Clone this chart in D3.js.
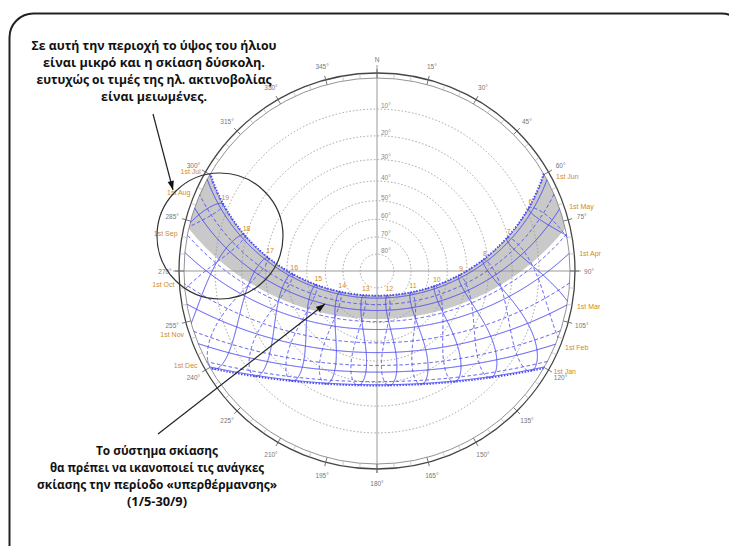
<!DOCTYPE html>
<html><head><meta charset="utf-8">
<script src="https://cdn.jsdelivr.net/npm/d3@7"></script>
<style>body{margin:0;background:#fff}svg{display:block}</style>
</head><body>
<script>
// ---------------- data ----------------
const siteLat = 37.97, siteLon = 23.73, siteTz = 2;
const monthNames = ["Jan","Feb","Mar","Apr","May","Jun","Jul","Aug","Sep","Oct","Nov","Dec"];
const monthDOY   = [1,32,60,91,121,152,182,213,244,274,305,335];
const solsticeDOY = [172,355];
const clockHours = [6,7,8,9,10,11,12,13,14,15,16,17,18,19];
const altRings = [10,20,30,40,50,60,70,80];
const azTicks = [0,15,30,45,60,75,90,105,120,135,150,165,180,195,210,225,240,255,270,285,300,315,330,345];
const azLabels = ["N","15°","30°","45°","60°","75°","90°","105°","120°","135°","150°","165°","180°","195°","210°","225°","240°","255°","270°","285°","300°","315°","330°","345°"];
const bandDecl = [23.44, 10];   // shaded overheating band (declination limits)
const noteTop = ["Σε αυτή την περιοχή το ύψος του ήλιου","είναι μικρό και η σκίαση δύσκολη.","ευτυχώς οι τιμές της ηλ. ακτινοβολίας","είναι μειωμένες."];
const noteBottom = ["Το σύστημα σκίασης","θα πρέπει να ικανοποιεί τις ανάγκες","σκίασης την περίοδο «υπερθέρμανσης»","(1/5-30/9)"];

// ---------------- layout ----------------
const W=729, H=546, cx=377, cy=271, R=193, rimOut=198;
const rad = Math.PI/180;
const BLUE="#4848f2", ORANGE="#d08a26";
const noteTopW=[245,222,235,106], noteBotW=[122,214,240,60];

const svg = d3.select("body").append("svg").attr("width",W).attr("height",H);

const rScale = d3.scaleLinear().domain([0,1]).range([0,R]);
const azScale = d3.scaleLinear().domain([0,360]).range([0,2*Math.PI]);
function polar(r, az){ const a=azScale(az); return [cx + r*Math.sin(a), cy - r*Math.cos(a)]; }
function proj(alt, az){ return polar(rScale(Math.tan((90-alt)/2*rad)), az); }

function posFromDeclHa(decl, ha){
  const phi=siteLat*rad;
  const alt=Math.asin(Math.sin(phi)*Math.sin(decl)+Math.cos(phi)*Math.cos(decl)*Math.cos(ha));
  const E=-Math.cos(decl)*Math.sin(ha);
  const N=Math.sin(decl)*Math.cos(phi)-Math.cos(decl)*Math.cos(ha)*Math.sin(phi);
  return {alt:alt/rad, az:(Math.atan2(E,N)/rad+360)%360};
}
function sunPos(doy, hr){
  const g=2*Math.PI/365*(doy-1+(hr-12)/24);
  const decl=0.006918-0.399912*Math.cos(g)+0.070257*Math.sin(g)-0.006758*Math.cos(2*g)+0.000907*Math.sin(2*g)-0.002697*Math.cos(3*g)+0.00148*Math.sin(3*g);
  const eqt=229.18*(0.000075+0.001868*Math.cos(g)-0.032077*Math.sin(g)-0.014615*Math.cos(2*g)-0.040849*Math.sin(2*g));
  const tst=hr*60+eqt+4*siteLon-60*siteTz;
  return posFromDeclHa(decl,(tst/4-180)*rad);
}
function cross(a,b){
  const t=(0-a.alt)/(b.alt-a.alt);
  const x=Math.sin(a.az*rad)*(1-t)+Math.sin(b.az*rad)*t, y=Math.cos(a.az*rad)*(1-t)+Math.cos(b.az*rad)*t;
  return {alt:0, az:(Math.atan2(x,y)/rad+360)%360};
}
function visibleRuns(samples){
  const runs=[]; let cur=null;
  samples.forEach((s,i)=>{
    if(s.alt>=0){
      if(!cur){ cur=[]; if(i>0) cur.push(cross(samples[i-1],s)); }
      cur.push(s);
    } else if(cur){ cur.push(cross(s,samples[i-1])); runs.push(cur); cur=null; }
  });
  if(cur) runs.push(cur);
  return runs;
}
const line = d3.line().x(d=>proj(d.alt,d.az)[0]).y(d=>proj(d.alt,d.az)[1]);

// ---------------- border ----------------
svg.append("rect").attr("x",9.5).attr("y",13.5).attr("width",736).attr("height",570).attr("rx",24)
  .attr("fill","none").attr("stroke","#222").attr("stroke-width",2);

// ---------------- shaded band ----------------
function declRun(dDeg){
  const s=d3.range(-180,180.01,0.5).map(h=>posFromDeclHa(dDeg*rad,h*rad));
  return visibleRuns(s)[0];
}
const bandTop=declRun(bandDecl[0]), bandBot=declRun(bandDecl[1]);
function horizonArc(az0, az1){ return d3.range(0,1.0001,0.05).map(t=>({alt:0, az:az0+(az1-az0)*t})); }
const bandPts = bandTop.concat(horizonArc(bandTop[bandTop.length-1].az, bandBot[bandBot.length-1].az), bandBot.slice().reverse(), horizonArc(bandBot[0].az, bandTop[0].az));
svg.append("path").attr("d", line(bandPts)+"Z").attr("fill","#c9c9c9").attr("stroke","none");

// ---------------- grid ----------------
const grid=svg.append("g");
altRings.forEach(a=>{
  grid.append("circle").attr("cx",cx).attr("cy",cy).attr("r",rScale(Math.tan((90-a)/2*rad)))
    .attr("fill","none").attr("stroke","#999").attr("stroke-width",0.9).attr("stroke-dasharray","1.5,2");
});
grid.append("line").attr("x1",cx).attr("x2",cx).attr("y1",cy-206).attr("y2",cy+202).attr("stroke","#999").attr("stroke-width",1);
grid.append("line").attr("x1",cx-204).attr("x2",cx+204).attr("y1",cy).attr("y2",cy).attr("stroke","#999").attr("stroke-width",1);
grid.append("circle").attr("cx",cx).attr("cy",cy).attr("r",R).attr("fill","none").attr("stroke","#888").attr("stroke-width",0.9);
grid.append("circle").attr("cx",cx).attr("cy",cy).attr("r",rimOut).attr("fill","none").attr("stroke","#444").attr("stroke-width",1.3);
d3.range(0,360,5).forEach(a=>{
  const major = a%15===0;
  const p0=polar(R,a), p1=polar(major?rimOut+4:rimOut,a);
  grid.append("line").attr("x1",p0[0]).attr("y1",p0[1]).attr("x2",p1[0]).attr("y2",p1[1])
    .attr("stroke",major?"#666":"#aaa").attr("stroke-width",major?0.9:0.6);
});
azTicks.forEach((a,i)=>{
  const p=polar(212,a);
  grid.append("text").attr("x",p[0]).attr("y",p[1]+2.5).attr("text-anchor","middle")
    .attr("font-family","Liberation Sans, Arial, sans-serif").attr("font-size",6.5).attr("fill","#777").text(azLabels[i]);
});
altRings.forEach(a=>{
  const r=rScale(Math.tan((90-a)/2*rad));
  grid.append("text").attr("x",cx+4).attr("y",cy-r-1).attr("font-family","Liberation Sans, Arial, sans-serif")
    .attr("font-size",6.5).attr("fill","#888").text(a+"°");
});

// ---------------- sun paths ----------------
const blue=svg.append("g").attr("fill","none").attr("stroke",BLUE);
monthDOY.forEach((doy,i)=>{
  const s=d3.range(0,24.001,1/60).map(h=>sunPos(doy,h));
  const runs=visibleRuns(s);
  runs.forEach(run=>{
    blue.append("path").attr("d",line(run)).attr("stroke-width",1)
      .attr("stroke-dasharray", i<6?null:"3.5,2.5");
  });
  const run=runs[0];
  const end = i<6 ? run[0] : run[run.length-1];
  const p=polar(201,end.az);
  svg.append("text").attr("x",p[0]+(i<6?2:-2)).attr("y",p[1]+3).attr("text-anchor",i<6?"start":"end")
    .attr("font-family","Liberation Sans, Arial, sans-serif").attr("font-size",7).attr("fill",ORANGE)
    .text("1st "+monthNames[i]);
});
solsticeDOY.forEach(doy=>{
  const s=d3.range(0,24.001,1/60).map(h=>sunPos(doy,h));
  visibleRuns(s).forEach(run=>{
    blue.append("path").attr("d",line(run)).attr("stroke-width",1.8).attr("stroke-dasharray","1.4,1.6");
  });
});
// hour lines (analemmas): Dec21->Jun21 solid, Jun21->Dec21 dashed
const firstHalf=d3.range(355,365.01,0.5).concat(d3.range(1,172.01,0.5));
const secondHalf=d3.range(172,355.01,0.5);
clockHours.forEach(h=>{
  [[firstHalf,null],[secondHalf,"3.5,2.5"]].forEach(([days,dash])=>{
    visibleRuns(days.map(d=>sunPos(d,h))).forEach(run=>{
      if(run.length<2) return;
      blue.append("path").attr("d",line(run)).attr("stroke-width",1).attr("stroke-dasharray",dash);
    });
  });
  const sp=sunPos(172,h);
  if(sp.alt>0){
    const p=proj(sp.alt,sp.az);
    svg.append("text").attr("x",p[0]+2).attr("y",p[1]-4).attr("text-anchor","middle")
      .attr("font-family","Liberation Sans, Arial, sans-serif").attr("font-size",7).attr("fill",ORANGE).text(h);
  }
});

// ---------------- annotations ----------------
svg.append("circle").attr("cx",220).attr("cy",236).attr("r",63).attr("fill","none").attr("stroke","#333").attr("stroke-width",1.2);
function arrow(x1,y1,x2,y2){
  svg.append("line").attr("x1",x1).attr("y1",y1).attr("x2",x2).attr("y2",y2).attr("stroke","#222").attr("stroke-width",1.2);
  const dx=x2-x1, dy=y2-y1, L=Math.hypot(dx,dy), ux=dx/L, uy=dy/L, len=9, w=3.2;
  const bx=x2-ux*len, by=y2-uy*len;
  svg.append("path").attr("d",`M${x2},${y2}L${bx-uy*w},${by+ux*w}L${bx+uy*w},${by-ux*w}Z`).attr("fill","#111");
}
arrow(153,114,173,190);
arrow(158,434,325,304);

const font="'Open Sans','Noto Sans',sans-serif";
noteTop.forEach((t,i)=>{
  svg.append("text").attr("x",154).attr("y",50+i*17).attr("text-anchor","middle")
    .attr("font-family",font).attr("font-weight",700).attr("font-size",13).attr("fill","#111")
    .attr("textLength",noteTopW[i]).attr("lengthAdjust","spacingAndGlyphs").text(t);
});
noteBottom.forEach((t,i)=>{
  svg.append("text").attr("x",157).attr("y",455+i*17).attr("text-anchor","middle")
    .attr("font-family",font).attr("font-weight",700).attr("font-size",13).attr("fill","#111")
    .attr("textLength",noteBotW[i]).attr("lengthAdjust","spacingAndGlyphs").text(t);
});
</script>
</body></html>
